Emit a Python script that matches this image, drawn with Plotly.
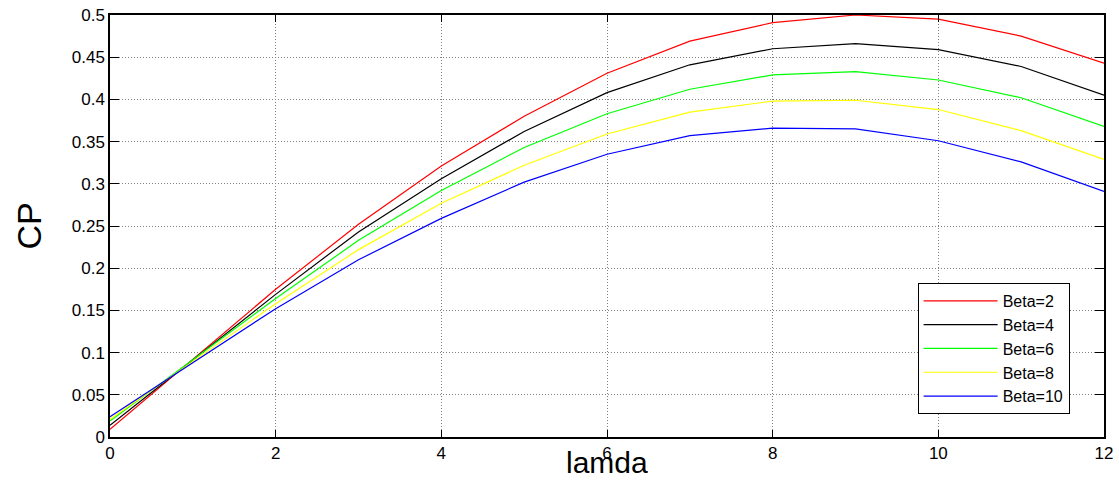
import plotly.graph_objects as go

lamda = [0, 1, 2, 3, 4, 5, 6, 7, 8, 9, 10, 11, 12]
beta2 = [0.009, 0.092, 0.175, 0.252, 0.321, 0.380, 0.431, 0.469, 0.491, 0.500, 0.495, 0.475, 0.443]
beta4 = [0.014, 0.092, 0.169, 0.243, 0.306, 0.362, 0.408, 0.441, 0.460, 0.466, 0.459, 0.439, 0.405]
beta6 = [0.019, 0.091, 0.164, 0.233, 0.292, 0.343, 0.383, 0.412, 0.429, 0.433, 0.423, 0.402, 0.368]
beta8 = [0.021, 0.090, 0.158, 0.222, 0.277, 0.322, 0.359, 0.385, 0.398, 0.399, 0.388, 0.363, 0.329]
beta10 = [0.024, 0.088, 0.152, 0.210, 0.259, 0.302, 0.335, 0.357, 0.366, 0.365, 0.351, 0.326, 0.291]

names = ["Beta=2", "Beta=4", "Beta=6", "Beta=8", "Beta=10"]
series = [beta2, beta4, beta6, beta8, beta10]
colors = ["#ff0000", "#000000", "#00ff00", "#ffff00", "#0000ff"]

x_ticks = [0, 2, 4, 6, 8, 10, 12]
y_ticks = [0, 0.05, 0.1, 0.15, 0.2, 0.25, 0.3, 0.35, 0.4, 0.45, 0.5]
y_ticktext = ["0", "0.05", "0.1", "0.15", "0.2", "0.25", "0.3", "0.35", "0.4", "0.45", "0.5"]
x_title = "lamda"
y_title = "CP"

FONT = "Arial, Liberation Sans, Helvetica, sans-serif"

fig = go.Figure()
for n, s, c in zip(names, series, colors):
    fig.add_trace(go.Scatter(x=lamda, y=s, mode="lines", name=n,
                             line=dict(color=c, width=1.2)))

axis_common = dict(
    showline=True, linecolor="black", linewidth=1.5, mirror="ticks",
    ticks="inside", tickcolor="black", tickwidth=1,
    showgrid=True, gridcolor="#808080", griddash="1px,2px", gridwidth=1,
    zeroline=False, automargin=False,
    tickfont=dict(family=FONT, size=17, color="black"),
)

fig.update_xaxes(range=[0, 12], tickvals=x_ticks, ticklen=7, ticklabelstandoff=0, **axis_common)
fig.update_yaxes(range=[0, 0.5], tickvals=y_ticks, ticktext=y_ticktext, ticklen=9,
                 title=dict(text=y_title, font=dict(family=FONT, size=34, color="black"), standoff=20),
                 **axis_common)

fig.add_annotation(text=x_title, xref="paper", yref="paper", x=0.5, y=-0.104,
                   xanchor="center", yanchor="bottom", showarrow=False,
                   font=dict(family=FONT, size=30, color="black"))

fig.update_layout(
    width=1119, height=482,
    margin=dict(l=110, r=15, t=15, b=45),
    plot_bgcolor="white", paper_bgcolor="white",
    legend=dict(x=0.8125, y=0.365, xanchor="left", yanchor="top",
                bgcolor="white", bordercolor="black", borderwidth=1,
                font=dict(family=FONT, size=16, color="black"),
                tracegroupgap=0, itemwidth=74),
    showlegend=True,
)

fig.write_html("out.html", config={"displayModeBar": False},
               post_script="document.body.style.margin='0';document.body.style.overflow='hidden';")
